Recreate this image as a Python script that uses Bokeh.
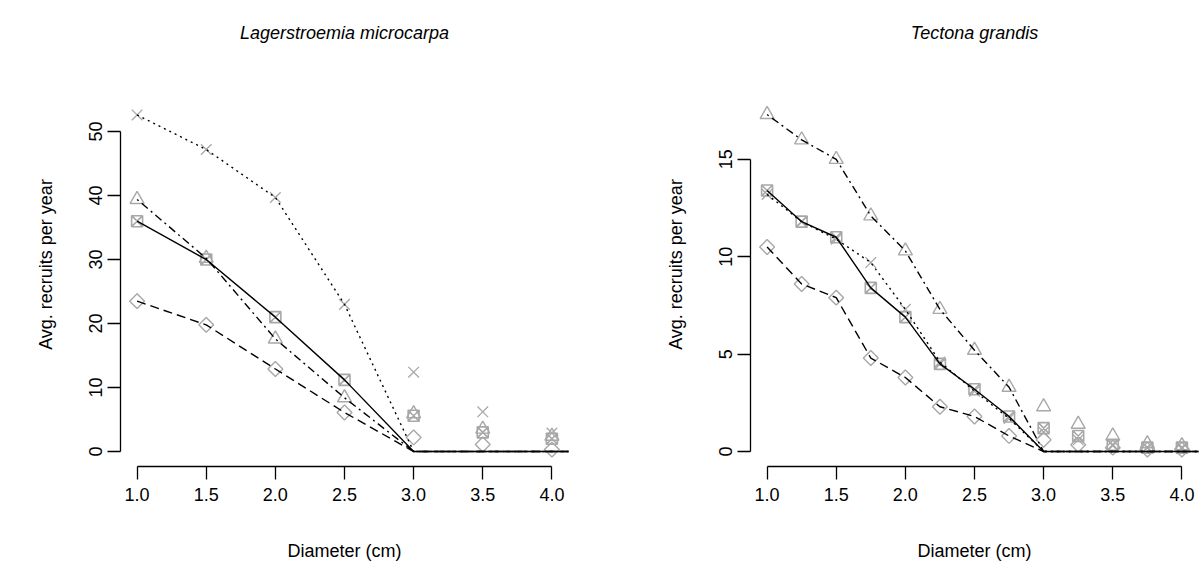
import math
from bokeh.plotting import figure
from bokeh.layouts import row
from bokeh.models import Range1d, FixedTicker, NumeralTickFormatter
from bokeh.embed import file_html
from bokeh.resources import INLINE

# ---------------- data ----------------
# Lagerstroemia microcarpa (observed points)
diam_L = [1.0, 1.5, 2.0, 2.5, 3.0, 3.5, 4.0]
sq_L = [36.0, 30.0, 21.0, 11.2, 5.6, 3.0, 2.0]
tri_L = [39.4, 30.2, 17.6, 8.4, 5.9, 3.5, 2.4]
x_L = [52.6, 47.2, 39.7, 23.0, 12.4, 6.2, 2.9]
dia_L = [23.5, 19.8, 12.9, 6.1, 2.2, 1.1, 0.3]
# Lagerstroemia microcarpa (lines)
line_diam_L = [1.0, 1.5, 2.0, 2.5, 3.0, 3.5, 4.0, 4.5]
sq_line_L = [36.0, 30.0, 21.0, 11.2, 0, 0, 0, 0]
tri_line_L = [39.4, 30.2, 17.6, 8.4, 0, 0, 0, 0]
x_line_L = [52.6, 47.2, 39.7, 23.0, 0, 0, 0, 0]
dia_line_L = [23.5, 19.8, 12.9, 6.1, 0, 0, 0, 0]

# Tectona grandis (observed points)
diam_T = [1.0, 1.25, 1.5, 1.75, 2.0, 2.25, 2.5, 2.75, 3.0, 3.25, 3.5, 3.75, 4.0]
tri_T = [17.3, 16.0, 15.0, 12.1, 10.3, 7.3, 5.2, 3.3, 2.3, 1.4, 0.8, 0.4, 0.3]
sq_T = [13.4, 11.8, 11.0, 8.4, 6.9, 4.5, 3.2, 1.8, 1.2, 0.8, 0.35, 0.2, 0.2]
x_T = [13.2, 11.8, 10.9, 9.7, 7.3, 4.6, 3.1, 1.7, 1.0, 0.6, 0.3, 0.2, 0.15]
dia_T = [10.5, 8.6, 7.9, 4.8, 3.8, 2.3, 1.8, 0.8, 0.6, 0.35, 0.2, 0.1, 0.1]
# Tectona grandis (lines)
line_diam_T = [1.0, 1.25, 1.5, 1.75, 2.0, 2.25, 2.5, 2.75, 3.0, 3.25, 3.5, 3.75, 4.0, 4.25, 4.5]
tri_line_T = [17.3, 16.0, 15.0, 12.1, 10.3, 7.3, 5.2, 3.3, 0, 0, 0, 0, 0, 0, 0]
sq_line_T = [13.4, 11.8, 11.0, 8.4, 6.9, 4.5, 3.2, 1.8, 0, 0, 0, 0, 0, 0, 0]
x_line_T = [13.2, 11.8, 10.9, 9.7, 7.3, 4.6, 3.1, 1.7, 0, 0, 0, 0, 0, 0, 0]
dia_line_T = [10.5, 8.6, 7.9, 4.8, 3.8, 2.3, 1.8, 0.8, 0, 0, 0, 0, 0, 0, 0]

x_ticks = [1.0, 1.5, 2.0, 2.5, 3.0, 3.5, 4.0]
y_ticks_L = [0, 10, 20, 30, 40, 50]
y_ticks_T = [0, 5, 10, 15]

titles = ["Lagerstroemia microcarpa", "Tectona grandis"]
xlab = "Diameter (cm)"
ylab = "Avg. recruits per year"

# ---------------- styling ----------------
FONT = "Liberation Sans"
FS = "18px"
GRAY = "#a8a8a8"


def panel(title, px, pts, lx, lines, yticks, yr, mb_left, mb_right):
    p = figure(width=mb_left + 448 + mb_right, height=576,
               min_border_left=mb_left, min_border_right=mb_right,
               min_border_top=61, min_border_bottom=110,
               x_range=Range1d(0.88, 4.12), y_range=Range1d(*yr),
               output_backend="svg", toolbar_location=None)
    p.grid.visible = False
    p.outline_line_color = None
    p.title.text = title
    p.title.align = "center"
    p.title.text_font = FONT
    p.title.text_font_size = FS
    p.title.text_font_style = "italic"
    p.title.text_color = "black"
    p.title.standoff = 40

    sq, tri, xx, dia = pts
    p.scatter(px, sq, marker="square_x", size=11, fill_color=None, line_color=GRAY, line_width=1.6)
    p.scatter(px, tri, marker="triangle", size=14, fill_color=None, line_color=GRAY, line_width=1.4)
    p.scatter(px, xx, marker="x", size=15, line_color=GRAY, line_width=1.3)
    p.scatter(px, dia, marker="square", angle=math.pi / 4, size=10.5, fill_color=None,
              line_color=GRAY, line_width=1.4)

    lsq, ltri, lxx, ldia = lines
    p.line(lx, lsq, line_color="black", line_width=1.4)
    p.line(lx, ltri, line_color="black", line_width=1.4, line_dash="2 4 8 4")
    p.line(lx, lxx, line_color="black", line_width=1.4, line_dash="2 4")
    p.line(lx, ldia, line_color="black", line_width=1.4, line_dash="9 5")

    for ax in (p.xaxis[0], p.yaxis[0]):
        ax.axis_line_color = "black"
        ax.axis_line_width = 1.3
        ax.major_tick_line_width = 1.3
        ax.major_tick_in = 0
        ax.major_tick_out = 13
        ax.minor_tick_line_color = None
        ax.major_label_text_font = FONT
        ax.major_label_text_font_size = FS
        ax.major_label_text_color = "black"
        ax.axis_label_text_font = FONT
        ax.axis_label_text_font_size = FS
        ax.axis_label_text_font_style = "normal"
        ax.axis_label_text_color = "black"

    p.xaxis.ticker = FixedTicker(ticks=x_ticks)
    p.xaxis.formatter = NumeralTickFormatter(format="0.0")
    p.xaxis.bounds = (x_ticks[0], x_ticks[-1])
    p.xaxis.axis_label = xlab
    p.xaxis.major_label_standoff = 8
    p.xaxis.axis_label_standoff = 37

    p.yaxis.ticker = FixedTicker(ticks=yticks)
    p.yaxis.bounds = (yticks[0], yticks[-1])
    p.yaxis.major_label_orientation = "vertical"
    p.yaxis.axis_label = ylab
    p.yaxis.major_label_standoff = 5
    p.yaxis.axis_label_standoff = 31
    return p


p1 = panel(titles[0], diam_L, (sq_L, tri_L, x_L, dia_L), line_diam_L,
           (sq_line_L, tri_line_L, x_line_L, dia_line_L), y_ticks_L, (-2.34, 60.8), 120, 69)
p2 = panel(titles[1], diam_T, (sq_T, tri_T, x_T, dia_T), line_diam_T,
           (sq_line_T, tri_line_T, x_line_T, dia_line_T), y_ticks_T, (-0.768, 19.97), 113, 4)

layout = row(p1, p2)
open("out.html", "w").write(file_html(layout, INLINE))
